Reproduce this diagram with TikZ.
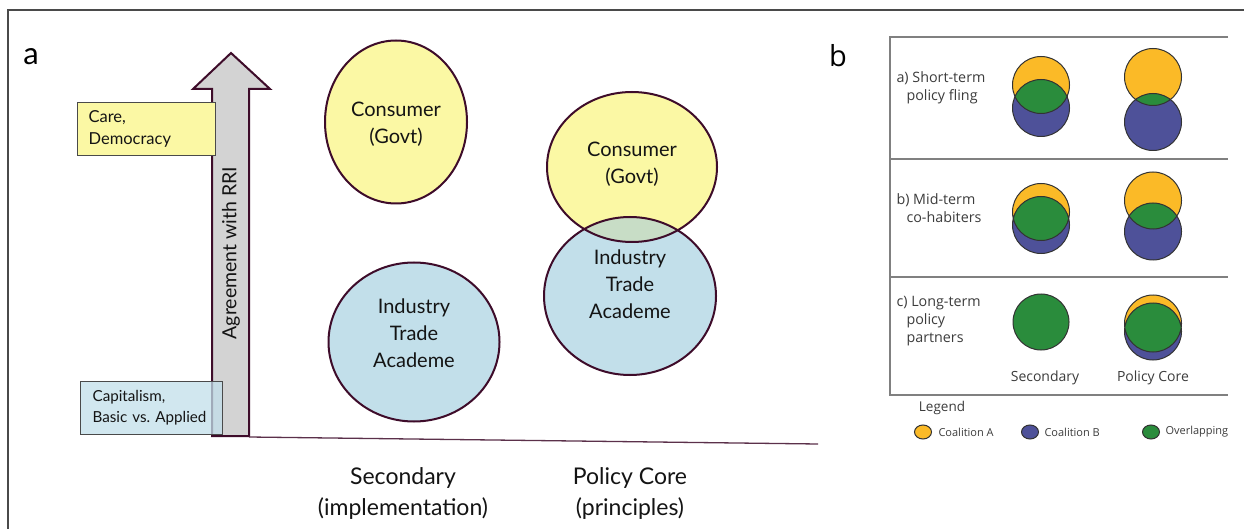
\documentclass[tikz,border=0pt]{standalone}
\usepackage{fontspec}
\setmainfont{Lato}
\newfontfamily\panelbfont{Open Sans}
\usetikzlibrary{shapes.geometric}
\frenchspacing

\definecolor{outline}{HTML}{3E0C2A}
\definecolor{consumerY}{HTML}{FBF8A4}
\definecolor{industryB}{HTML}{C2DFEA}
\definecolor{mixG}{HTML}{C8DDC6}
\definecolor{shaftgrey}{HTML}{D3D3D3}
\definecolor{inktext}{HTML}{141414}
\definecolor{framegrey}{HTML}{4A4A4A}
\definecolor{boxgrey}{HTML}{808080}
\definecolor{coalA}{HTML}{FBBA27}
\definecolor{coalB}{HTML}{4E5199}
\definecolor{coalG}{HTML}{2A8C3C}
\definecolor{btext}{HTML}{3C3C3C}

\tikzset{
  frame/.style={draw=framegrey, line width=1.6pt},
  arrowbody/.style={draw=outline, fill=shaftgrey, line width=2pt, line join=miter},
  axisline/.style={draw=outline!85, line width=1.3pt},
  actor/.style={ellipse, draw=outline, line width=2pt, inner sep=0pt},
  actortext/.style={text=inktext, align=center, font=\fontsize{20}{27}\selectfont},
  valuebox/.style={draw=framegrey, line width=1.2pt, anchor=north west,
    inner xsep=11pt, text width=116pt, align=left, text=inktext,
    font=\fontsize{16.5}{21.5}\selectfont},
  axislabel/.style={text=inktext, align=center, font=\fontsize{23}{31}\selectfont},
  panelletter/.style={text=black, font=\fontsize{31}{31}\selectfont},
  rowlabel/.style={anchor=west, align=left, text=btext,
    font=\panelbfont\fontsize{14.3}{18}\selectfont},
  collabel/.style={text=btext, font=\panelbfont\fontsize{14}{16}\selectfont},
  legendtext/.style={anchor=west, text=btext, font=\panelbfont\fontsize{11}{13}\selectfont},
  pbox/.style={draw=boxgrey, line width=1.5pt},
  coalline/.style={draw=black!80, line width=1pt},
}

% two overlapping coalition circles: x, centre of A, centre of B
\newcommand\coalpair[3]{%
  \fill[coalA] (#1,#2) circle[radius=28.5pt];
  \fill[coalB] (#1,#3) circle[radius=28.5pt];
  \begin{scope}
    \clip (#1,#2) circle[radius=28.5pt];
    \fill[coalG] (#1,#3) circle[radius=28.5pt];
  \end{scope}
  \draw[coalline] (#1,#2) circle[radius=28.5pt] (#1,#3) circle[radius=28.5pt];
}

\begin{document}
\begin{tikzpicture}[x=1pt,y=-1pt]
\useasboundingbox (0,0) rectangle (1244,529);
\fill[white] (0,0) rectangle (1244,529);

% outer frame (open towards the right and bottom edges)
\draw[frame] (1244,10) -- (8,10) -- (8,529);

% ---------------- panel a ----------------
\node[panelletter] (la) at (31,57) {a};

% vertical arrow
\draw[arrowbody] (212,436) -- (212,89) -- (193,89) -- (231,53) -- (270,89)
  -- (249,89) -- (249,436) -- cycle;
\node[rotate=90, text=inktext, font=\fontsize{19.5}{20}\selectfont] (rri) at (231,253) {Agreement with RRI};

% horizontal axis
\coordinate (axL) at (249,437);
\coordinate (axR) at (818,444);
\draw[axisline] (axL) -- (axR);

% value boxes
\node[valuebox, fill=consumerY, minimum width=138pt, minimum height=53pt] (care) at (77,102) {Care,\\Democracy};
\node[valuebox, fill=industryB, fill opacity=0.75, text opacity=1, inner xsep=12pt,
  text width=118pt, font=\fontsize{15.2}{21}\selectfont,
  minimum width=142pt, minimum height=53pt] (capital) at (80,381) {Capitalism,\\\mbox{Basic vs. Applied}};

% secondary column
\node[actor, fill=consumerY, minimum width=142pt, minimum height=163pt] (consL) at (396,122) {};
\node[actortext] (consLt) at (396,124) {Consumer\\(Govt)};
\node[actor, fill=industryB, minimum width=171pt, minimum height=159pt] (indL) at (414,342) {};
\node[actortext] (indLt) at (414,333) {Industry\\Trade\\Academe};

% policy core column (overlapping)
\fill[industryB] (630,296) ellipse [x radius=86pt, y radius=79pt];
\fill[consumerY] (632,167) ellipse [x radius=85pt, y radius=75pt];
\begin{scope}
  \clip (632,167) ellipse [x radius=85pt, y radius=75pt];
  \fill[mixG] (630,296) ellipse [x radius=86pt, y radius=79pt];
\end{scope}
\node[actor, minimum width=170pt, minimum height=150pt] (consR) at (632,167) {};
\node[actor, minimum width=172pt, minimum height=158pt] (indR) at (630,296) {};
\node[actortext] (consRt) at (632,164) {Consumer\\(Govt)};
\node[actortext] (indRt) at (630,284) {Industry\\Trade\\Academe};

% axis labels
\node[axislabel] (secA) at (403,493) {Secondary\\(implementation)};
\node[axislabel] (coreA) at (630,493) {Policy Core\\(principles)};

% ---------------- panel b ----------------
\node[panelletter, font=\panelbfont\fontsize{29}{29}\selectfont] (lb) at (838,56) {b};

\draw[pbox] (1228,37) -- (890,37) -- (890,395) -- (1228,395);
\draw[pbox] (890,159) -- (1228,159);
\draw[pbox] (890,277) -- (1228,277);

\node[rowlabel] (rowa) at (893,88) {a) Short-term\\\hspace*{10pt}policy fling};
\node[rowlabel] (rowb) at (893,208.5) {b) Mid-term\\\hspace*{10pt}co-habiters};
\node[rowlabel] (rowc) at (893,321) {c) Long-term\\\hspace*{10pt}policy\\\hspace*{10pt}partners};

\coalpair{1041}{85}{108}
\coalpair{1153}{77}{122}
\coalpair{1041}{212}{225}
\coalpair{1153}{200.5}{231.5}
\fill[coalG] (1041,322) circle[radius=28pt];
\draw[coalline] (1041,322) circle[radius=28pt];
\coalpair{1153}{323.5}{331.5}

\node[collabel] (secB) at (1045,378) {Secondary};
\node[collabel] (coreB) at (1153,378) {Policy Core};

% legend
\node[collabel, font=\panelbfont\fontsize{13.5}{15}\selectfont] (leg) at (942,408) {Legend};
\filldraw[fill=coalA, coalline] (923,432) ellipse [x radius=8.5pt, y radius=7pt];
\node[legendtext] (legA) at (935,432) {Coalition A};
\filldraw[fill=coalB, coalline] (1030,432) ellipse [x radius=8.5pt, y radius=7pt];
\node[legendtext] (legB) at (1041,432) {Coalition B};
\filldraw[fill=coalG, coalline] (1151,432) ellipse [x radius=8.5pt, y radius=7pt];
\node[legendtext] (legG) at (1162,432) {Overlapping};
\end{tikzpicture}
\end{document}
